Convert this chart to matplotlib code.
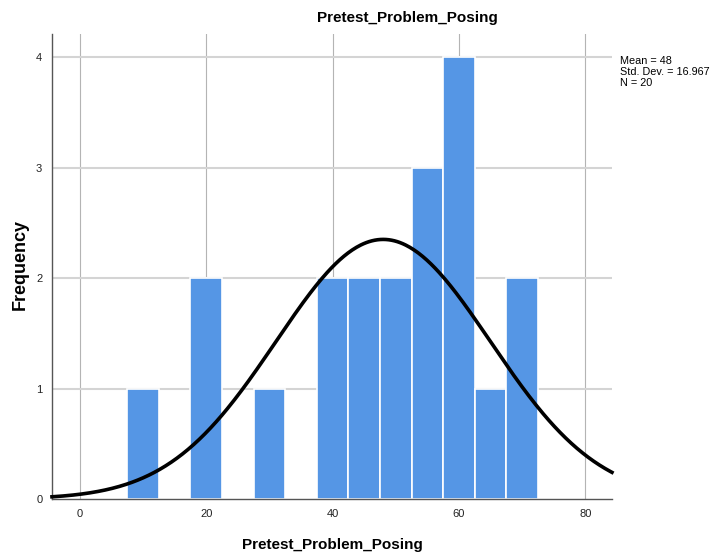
import numpy as np
import matplotlib
matplotlib.use('Agg')
import matplotlib.pyplot as plt

# histogram bins (lower edges) and counts
bin_left = [7.5, 17.5, 27.5, 37.5, 42.5, 47.5, 52.5, 57.5, 62.5, 67.5]
counts = [1, 2, 1, 2, 2, 2, 3, 4, 1, 2]
bin_width = 5

mean = 48
std_dev = 16.967
n = 20

title = 'Pretest_Problem_Posing'
font = ['Liberation Sans', 'DejaVu Sans']

fig = plt.figure(figsize=(7.17, 5.56), dpi=100)
ax = fig.add_axes([0.0725, 0.1025, 0.781, 0.836])

ax.set_xlim(-4.4, 84.2)
ax.set_ylim(0, 4.21)

ax.set_xticks([0, 20, 40, 60, 80])
ax.set_yticks([0, 1, 2, 3, 4])
for x in [0, 20, 40, 60, 80]:
    ax.axvline(x, color='#b4b4b4', lw=0.8, zorder=0)
for y in [1, 2, 3, 4]:
    ax.axhline(y, color='#d4d4d4', lw=1.5, zorder=0)

ax.bar(bin_left, counts, width=bin_width, align='edge', color='#5596e5',
       edgecolor='white', linewidth=1.2, zorder=2)

# fitted normal curve scaled to counts
xs = np.linspace(-4.4, 84.2, 400)
ys = n * bin_width / (std_dev * np.sqrt(2 * np.pi)) * np.exp(-0.5 * ((xs - mean) / std_dev) ** 2)
ax.plot(xs, ys, color='black', lw=2.6, zorder=3, clip_on=False)

for s in ['top', 'right']:
    ax.spines[s].set_visible(False)
for s in ['left', 'bottom']:
    ax.spines[s].set_color('#555555')
    ax.spines[s].set_linewidth(1.0)
ax.tick_params(length=0, labelsize=8, colors='#222222', pad=7)
for lab in ax.get_xticklabels() + ax.get_yticklabels():
    lab.set_family(font)

ax.set_xlabel(title, fontsize=11, fontweight='bold', family=font, va='center')
ax.set_ylabel('Frequency', fontsize=13, fontweight='bold', family=font, va='center')
ax.xaxis.set_label_coords(0.5, -0.099)
ax.yaxis.set_label_coords(-0.057, 0.505)

fig.text(407 / 717, 1 - 18 / 556, title, ha='center', va='center',
         fontsize=11, fontweight='bold', family=font)
fig.text(620 / 717, 1 - 56 / 556,
         'Mean = %g\nStd. Dev. = %.3f\nN = %d' % (mean, std_dev, n),
         ha='left', va='top', fontsize=7.8, family=font, linespacing=1.15)

fig.savefig('out.png', dpi=100)
